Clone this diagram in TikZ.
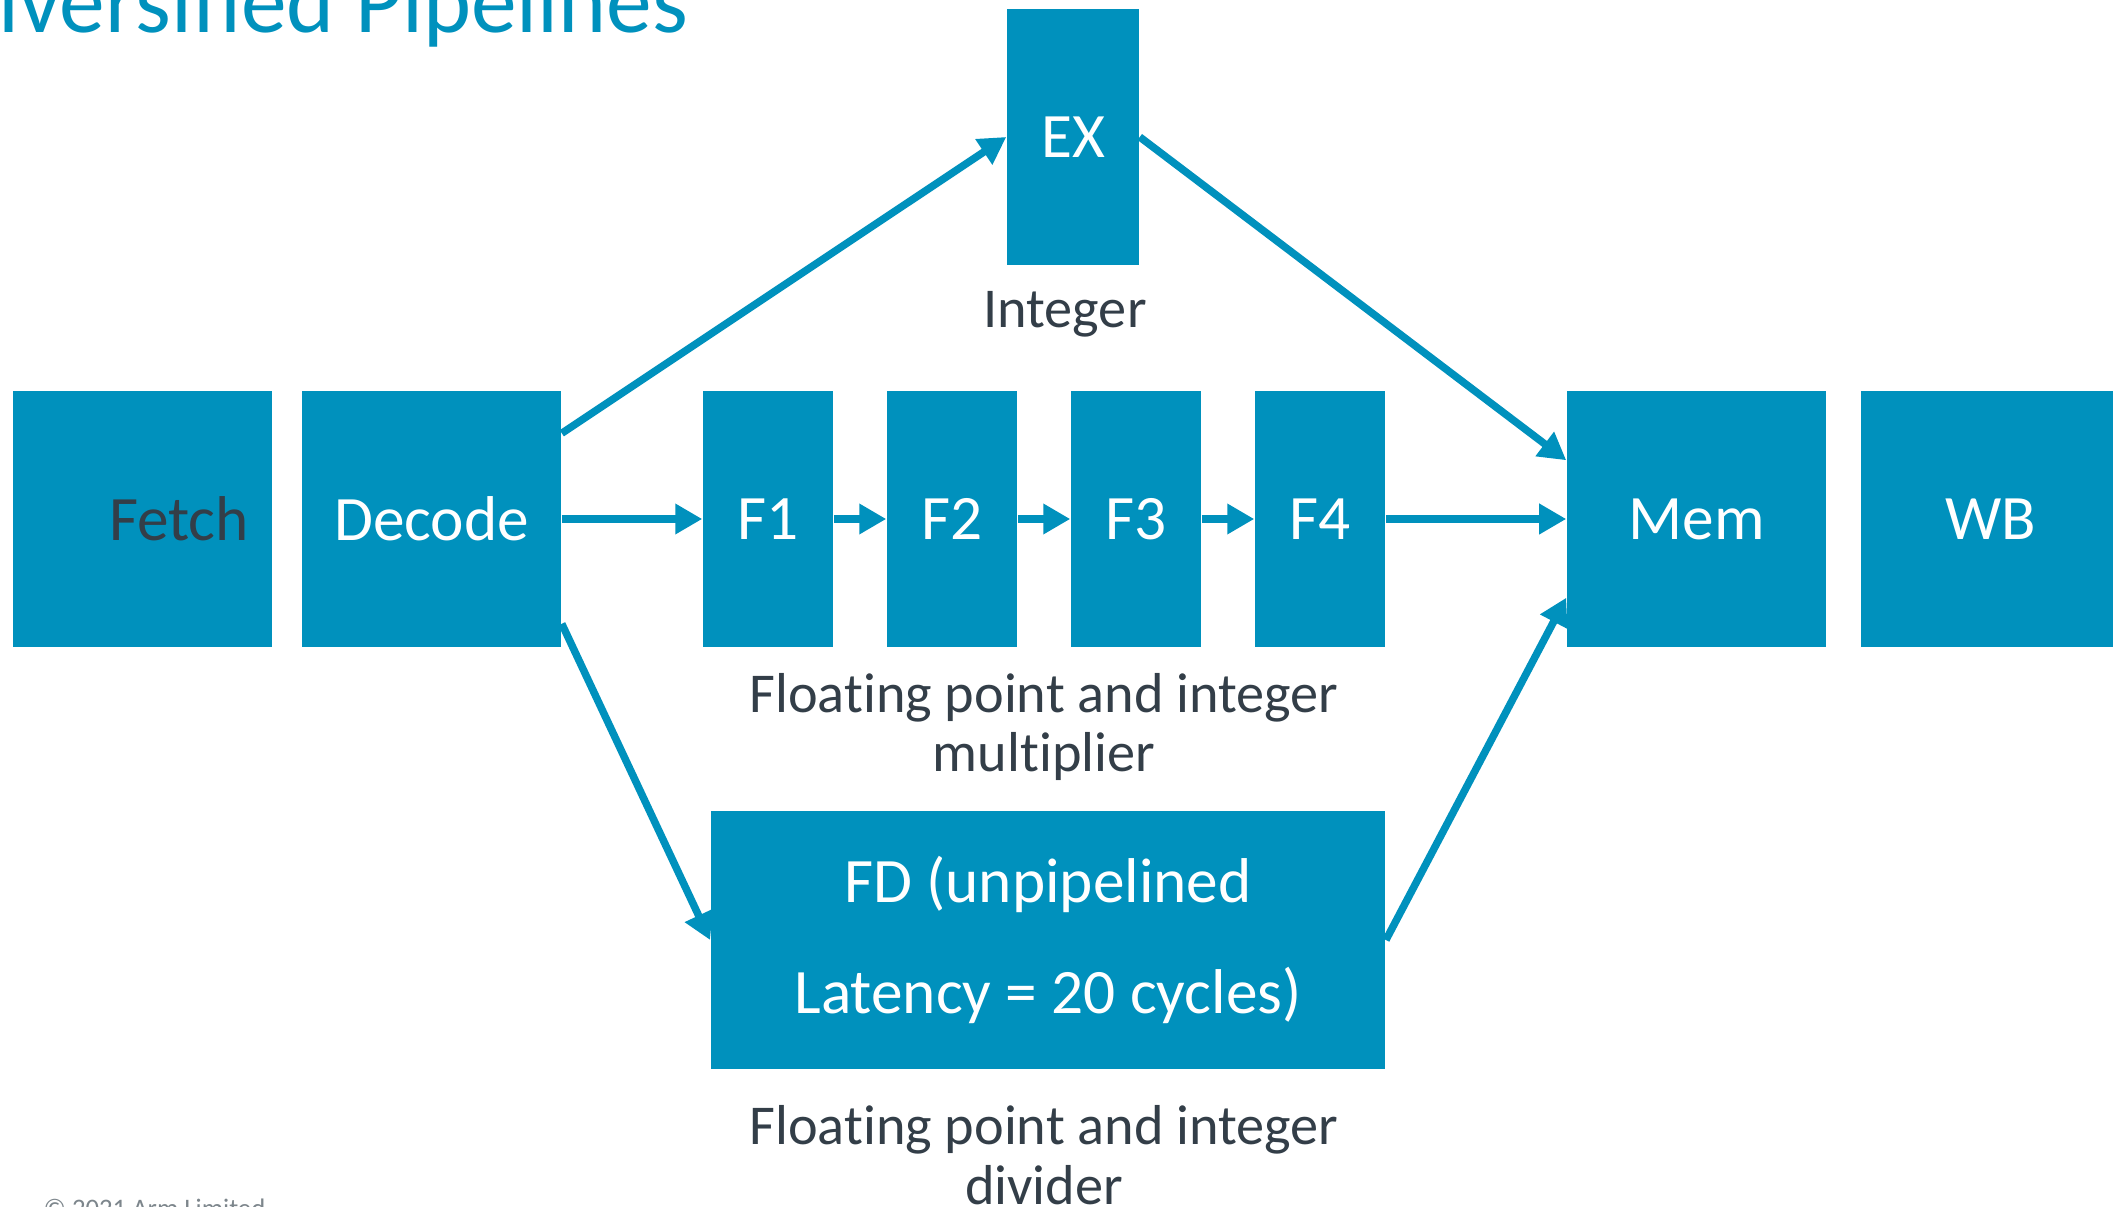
\documentclass[tikz,border=0pt]{standalone}
\usepackage{fontspec}
\setmainfont{Carlito}[Ligatures=NoCommon]
\usetikzlibrary{arrows.meta}
\usetikzlibrary{positioning}
\definecolor{armblue}{HTML}{0091BD}
\definecolor{armink}{HTML}{333E48}
\definecolor{armgrey}{HTML}{7D868C}

\begin{document}
\begin{tikzpicture}[x=0.01cm,y=-0.01cm,
  stage/.style={rectangle,fill=armblue,draw=none,inner sep=0pt,minimum height=2.56cm,text=white,font=\fontsize{18}{22}\selectfont},
  wide/.style={stage,minimum width=2.59cm},
  slim/.style={stage,minimum width=1.30cm},
  caption/.style={text=armink,align=center,font=\fontsize{16}{17}\selectfont},
  flow/.style={armblue,line width=0.075cm,-{Triangle[width=0.29cm,length=0.27cm]}}]
\useasboundingbox (0,0) rectangle (2113,1207);
\node[text=armblue,anchor=base east,inner sep=0pt,font=\fontsize{26}{30}\selectfont] (title) at (689,33) {Diversified Pipelines};
\node[text=armgrey,anchor=base west,inner sep=0pt,font=\fontsize{7.6}{9}\selectfont] (copy) at (43,1217) {\textcopyright{} 2021 Arm Limited};

\node[wide] (fetch) at (142.5,519) {};
\node[text=armink,font=\fontsize{18}{22}\selectfont] (fetchtxt) at (179,519) {Fetch};
\node[wide] (decode) at (431.5,519) {Decode};
\node[slim,minimum width=1.32cm] (ex) at (1073,137) {EX};
\foreach \i in {1,...,4}
  \node[slim] (f\i) at (584+184*\i,519) {F\i};
\node[wide] (mem) at (1696.5,519) {Mem};
\node[wide] (wb) at (1990.5,519) {WB};
\node[stage,minimum width=6.74cm,minimum height=2.58cm,align=center,font=\fontsize{18}{31.6}\selectfont] (fd) at (1048,940) {FD (unpipelined\\Latency = 20 cycles)};

\node[caption] (intlbl) at (1065,314) {Integer};
\node[caption] (mullbl) at (1044,727) {Floating point and integer\\multiplier};
\node[caption] (divlbl) at (1044,1155) {Floating point and integer\\divider};

\draw[flow] ([yshift=-0.43cm]decode.north east) -- (ex.west);
\draw[flow] (ex.east) -- ([yshift=-0.70cm]mem.north west);
\draw[flow] (decode.east) -- (f1.west);
\foreach \i [count=\j from 2] in {1,2,3}
  \draw[flow] (f\i.east) -- (f\j.west);
\draw[flow] (f4.east) -- (mem.west);
\draw[flow] ([yshift=0.24cm]decode.south east) -- (fd.west);
\draw[flow] (fd.east) -- ([yshift=0.50cm]mem.south west);
\end{tikzpicture}
\end{document}
